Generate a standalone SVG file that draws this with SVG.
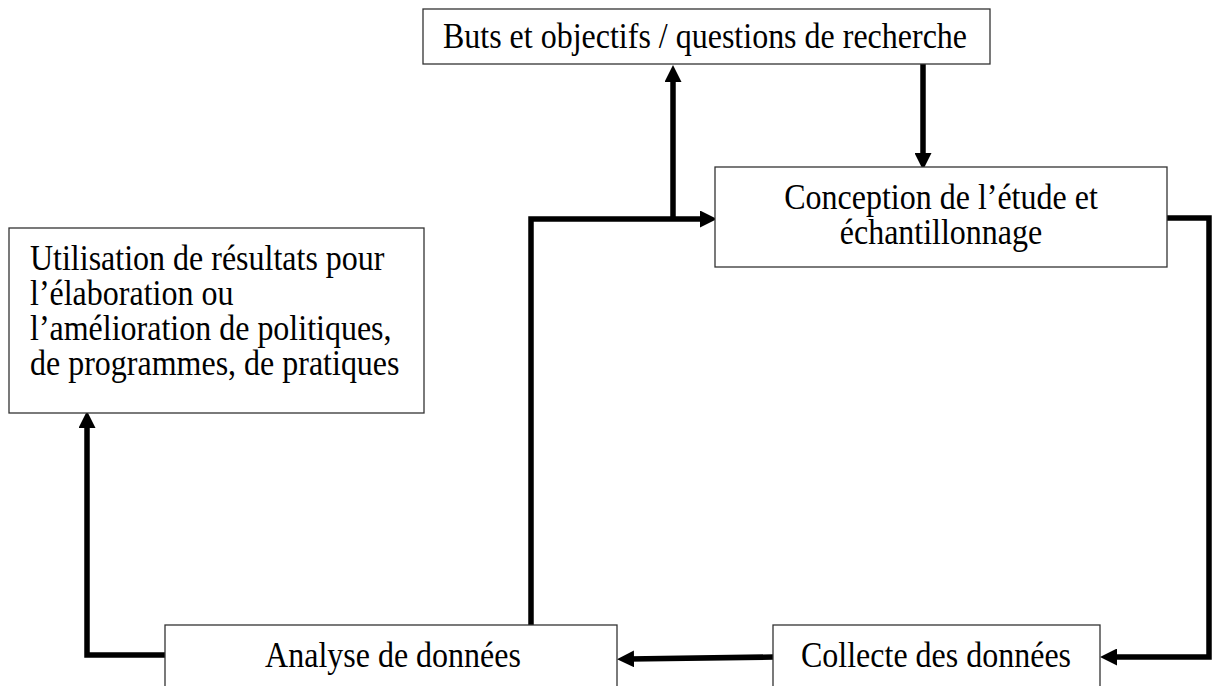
<svg xmlns="http://www.w3.org/2000/svg" width="1213" height="686" viewBox="0 0 1213 686">
  <defs>
    <marker id="ah" viewBox="0 0 17 17" markerUnits="userSpaceOnUse" markerWidth="17" markerHeight="17" refX="5" refY="8.5" orient="auto">
      <path d="M0,0 L17,8.5 L0,17 z" fill="#000"/>
    </marker>
  </defs>
  <style>
    .box { fill: #fff; stroke: #333; stroke-width: 1.3; }
    .lbl { font-family: "Liberation Serif", "Times New Roman", serif; font-size: 32px; fill: #000; }
    .mid { text-anchor: middle; }
    .conn { fill: none; stroke: #000; stroke-width: 5.5; stroke-linejoin: miter; stroke-linecap: butt; marker-end: url(#ah); }
  </style>
  <rect width="1213" height="686" fill="#fff"/>

  <g id="connectors">
    <line class="conn" x1="923" y1="64" x2="923" y2="158"/>
    <polyline class="conn" points="1167,218 1209,218 1209,657 1112,657"/>
    <line class="conn" x1="773" y1="657" x2="629" y2="659"/>
    <polyline class="conn" points="531,625 531,219 705,219"/>
    <line class="conn" x1="673" y1="219" x2="673" y2="77"/>
    <polyline class="conn" points="165,655 87,655 87,423"/>
  </g>

  <g id="buts">
    <rect class="box" x="423" y="9" width="567" height="55"/>
    <text class="lbl mid" transform="translate(705,48) scale(1,1.1)">Buts et objectifs / questions de recherche</text>
  </g>

  <g id="conception">
    <rect class="box" x="715" y="167" width="452" height="100"/>
    <text class="lbl mid" transform="translate(941,209) scale(1,1.1)">Conception de l’étude et</text>
    <text class="lbl mid" transform="translate(941,244) scale(1,1.1)">échantillonnage</text>
  </g>

  <g id="utilisation">
    <rect class="box" x="9" y="228" width="415" height="185"/>
    <text class="lbl" transform="translate(30,270) scale(1,1.1)">Utilisation de résultats pour</text>
    <text class="lbl" transform="translate(30,305) scale(1,1.1)">l’élaboration ou</text>
    <text class="lbl" transform="translate(30,340) scale(1,1.1)">l’amélioration de politiques,</text>
    <text class="lbl" transform="translate(30,375) scale(1,1.1)">de programmes, de pratiques</text>
  </g>

  <g id="analyse">
    <rect class="box" x="165" y="625" width="452" height="80"/>
    <text class="lbl mid" transform="translate(393,667) scale(1,1.1)">Analyse de données</text>
  </g>

  <g id="collecte">
    <rect class="box" x="773" y="625" width="327" height="80"/>
    <text class="lbl mid" transform="translate(936,667) scale(1,1.1)">Collecte des données</text>
  </g>
</svg>
